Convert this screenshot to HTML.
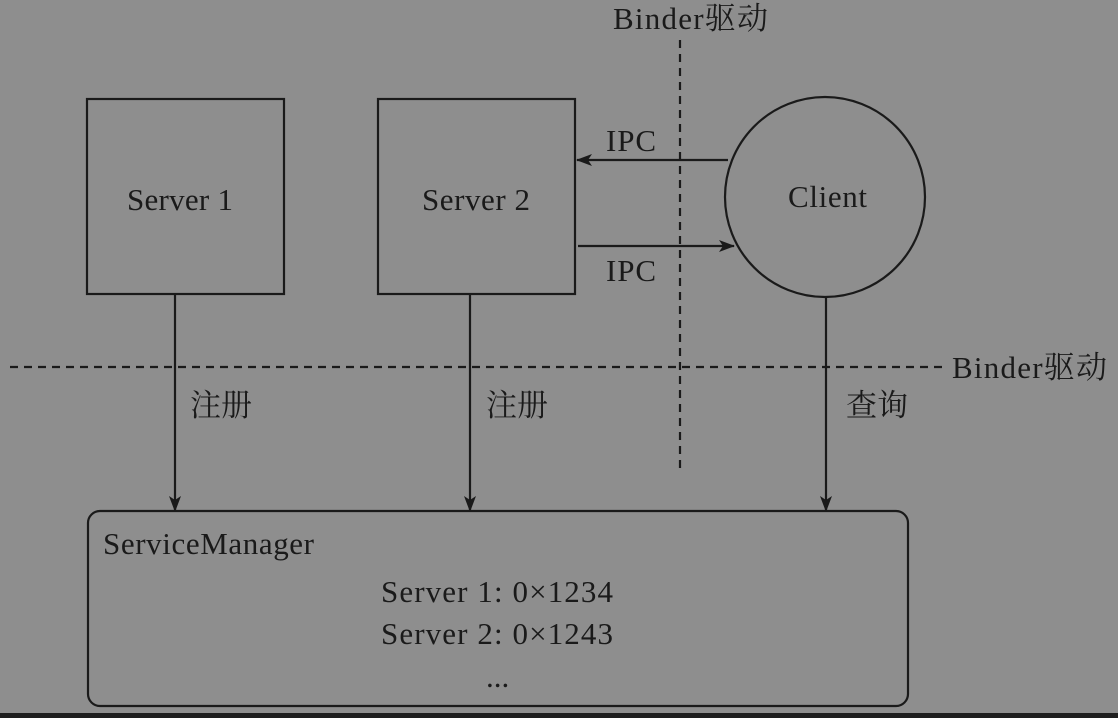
<!DOCTYPE html>
<html><head><meta charset="utf-8"><style>
html,body{margin:0;padding:0;background:#8e8e8e;}
svg{display:block}
text{font-family:"Liberation Serif","Noto Serif CJK SC",serif;fill:#1a1a1a;font-size:31px}
</style></head><body>
<svg width="1118" height="718" xmlns="http://www.w3.org/2000/svg">
<rect width="1118" height="718" fill="#8e8e8e"/>
<defs><marker id="a" viewBox="0 0 16 12" refX="15" refY="6" markerWidth="16" markerHeight="12" markerUnits="userSpaceOnUse" orient="auto"><path d="M0,0 L16,6 L0,12 L4,6 Z" fill="#1a1a1a"/></marker></defs>
<g stroke="#1a1a1a" stroke-width="2.2" fill="none">
<rect x="87" y="99" width="197" height="195"/>
<rect x="378" y="99" width="197" height="195"/>
<circle cx="825" cy="197" r="100"/>
<rect x="88" y="511" width="820" height="195" rx="12"/>
<line x1="680" y1="40" x2="680" y2="470" stroke-dasharray="8,6"/>
<line x1="10" y1="367" x2="945" y2="367" stroke-dasharray="8,6"/>
<line x1="728" y1="160" x2="577" y2="160" marker-end="url(#a)"/>
<line x1="578" y1="246" x2="734" y2="246" marker-end="url(#a)"/>
<line x1="175" y1="294" x2="175" y2="511" marker-end="url(#a)"/>
<line x1="470" y1="294" x2="470" y2="511" marker-end="url(#a)"/>
<line x1="826" y1="297" x2="826" y2="511" marker-end="url(#a)"/>
</g>
<text x="127" y="210" textLength="106">Server 1</text>
<text x="422" y="210" textLength="108">Server 2</text>
<text x="788" y="207" textLength="79">Client</text>
<text x="606" y="151" textLength="50">IPC</text>
<text x="606" y="281" textLength="50">IPC</text>
<text x="613" y="29" textLength="155">Binder驱动</text>
<text x="952" y="378" textLength="155">Binder驱动</text>
<text x="190" y="416">注册</text>
<text x="486" y="416">注册</text>
<text x="846" y="416">查询</text>
<text x="103" y="554" textLength="211">ServiceManager</text>
<text x="381" y="602" textLength="232">Server 1: 0×1234</text>
<text x="381" y="644" textLength="232">Server 2: 0×1243</text>
<text x="486" y="687">...</text>
<rect x="0" y="713" width="1118" height="5" fill="#1e1e1e"/>
</svg>
</body></html>
